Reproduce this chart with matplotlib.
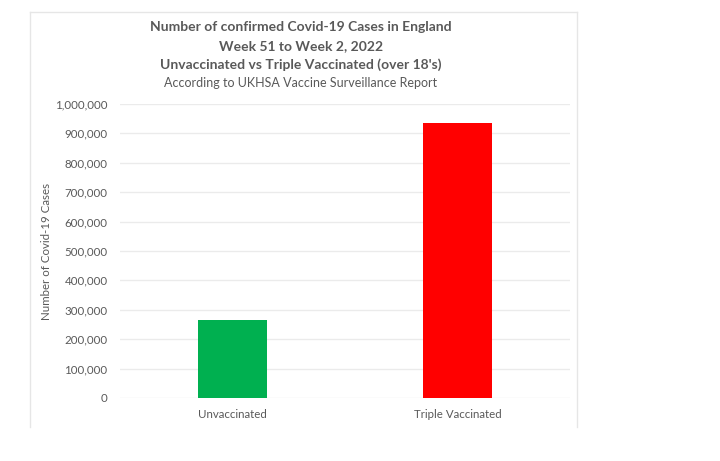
import matplotlib.pyplot as plt
from matplotlib.lines import Line2D
from matplotlib.ticker import FuncFormatter

categories = ["Unvaccinated", "Triple Vaccinated"]
cases = [265000, 935000]
colors = ["#00b050", "#ff0000"]

plt.rcParams['font.family'] = ['Lato', 'DejaVu Sans']
gray = "#595959"

fig = plt.figure(figsize=(7.2, 4.61), dpi=100)
ax = fig.add_axes([0.1667, 0.1367, 0.625, 0.6377])

ax.bar(range(len(categories)), cases, width=0.31, color=colors, zorder=3)
ax.set_xlim(-0.5, 1.5)
ax.set_ylim(0, 1000000)
ax.set_yticks(range(0, 1000001, 100000))
ax.yaxis.set_major_formatter(FuncFormatter(lambda v, p: f"{int(v):,}"))
ax.set_xticks(range(len(categories)))
ax.set_xticklabels(categories)
ax.tick_params(length=0, colors=gray, labelsize=8.3)
ax.tick_params(axis='y', pad=9)
ax.tick_params(axis='x', pad=8)
ax.grid(axis='y', color="#ebebeb", linewidth=1, zorder=0)
for s in ax.spines.values():
    s.set_visible(False)
ax.set_ylabel("Number of Covid-19 Cases", color=gray, fontsize=8.3, labelpad=2)

# titles
fig.text(0.4181, 1 - 27 / 461, "Number of confirmed Covid-19 Cases in England",
         ha='center', va='center', fontsize=10, weight='bold', color=gray)
fig.text(0.4181, 1 - 46 / 461, "Week 51 to Week 2, 2022",
         ha='center', va='center', fontsize=10, weight='bold', color=gray)
fig.text(0.4181, 1 - 65 / 461, "Unvaccinated vs Triple Vaccinated (over 18's)",
         ha='center', va='center', fontsize=10, weight='bold', color=gray)
fig.text(0.4181, 1 - 83 / 461, "According to UKHSA Vaccine Surveillance Report",
         ha='center', va='center', fontsize=9, color=gray)

# chart border (bottom edge cut off)
bx0, bx1, by0, by1 = 30 / 720, 577 / 720, 1 - 427 / 461, 1 - 12 / 461
for xs, ys in [([bx0, bx0], [by0, by1]), ([bx0, bx1], [by1, by1]), ([bx1, bx1], [by1, by0])]:
    fig.add_artist(Line2D(xs, ys, color="#e6e6e6", linewidth=1, transform=fig.transFigure))

fig.savefig("out.png", dpi=100, facecolor="white")
